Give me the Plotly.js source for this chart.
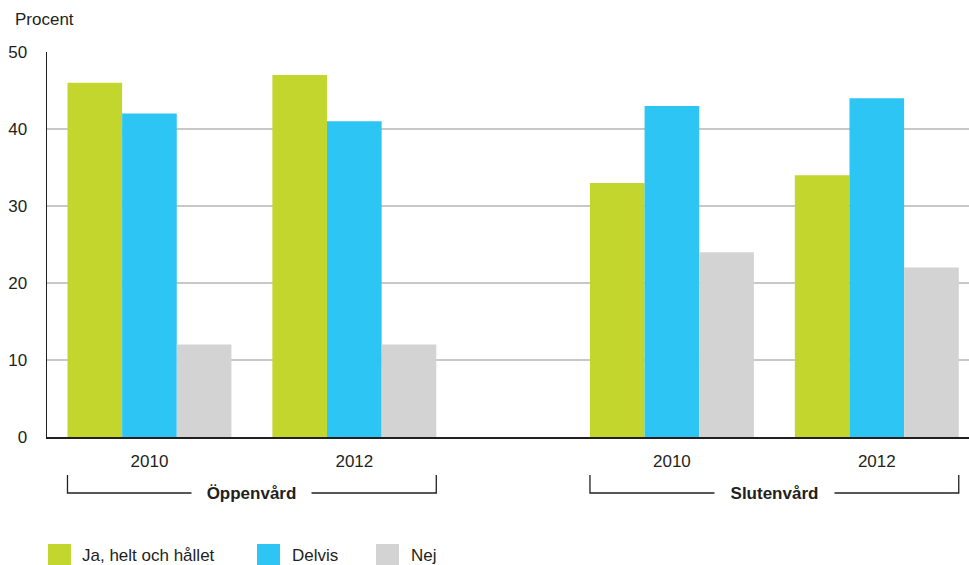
<!DOCTYPE html>
<html>
<head>
<meta charset="utf-8">
<script src="https://cdn.plot.ly/plotly-3.0.1.min.js"></script>
<style>html,body{margin:0;padding:0;background:#fff}#chart{width:969px;height:565px}</style>
</head>
<body>
<div id="chart"></div>
<script>
// ---- data ----
const years = ["2010", "2012", "2010", "2012"];
const groups = ["Öppenvård", "Slutenvård"];
const seriesNames = ["Ja, helt och hållet", "Delvis", "Nej"];
const jaValues = [46, 47, 33, 34];
const delvisValues = [42, 41, 43, 44];
const nejValues = [12, 12, 24, 22];
const yTicks = [0, 10, 20, 30, 40, 50];
const yTitle = "Procent";

// ---- layout helpers ----
const colors = ["#c2d62e", "#2cc5f4", "#d3d3d3"];
const xPos = [0, 1, 2.55, 3.55];
const W = 969, H = 565, mL = 47, mR = 0, mT = 52, mB = 128;
const pw = W - mL - mR, ph = H - mT - mB;
const px = v => (v - mL) / pw;
const py = v => (H - mB - v) / ph;
const FONT = "Liberation Sans, Arial, sans-serif";
const TXT = "#231f20";

const allVals = [jaValues, delvisValues, nejValues];
const traces = allVals.map((vals, i) => ({
  type: "bar",
  x: xPos,
  y: vals,
  name: seriesNames[i],
  marker: {color: colors[i], line: {width: 0}},
  showlegend: false,
  hoverinfo: "y+name"
}));

const shapes = [];
const annotations = [];

// Group brackets
[[0, 1], [2, 3]].forEach((pair, gi) => {
  const x0 = xPos[pair[0]] - 0.4, x1 = xPos[pair[1]] + 0.4;
  const yTop = py(475), yBot = py(493);
  const line = {color: "#231f20", width: 1.3};
  shapes.push({type: "path", xref: "x", yref: "paper",
    path: `M${x0},${yTop} L${x0},${yBot} L${x1},${yBot} L${x1},${yTop}`,
    line: line});
  annotations.push({xref: "x", yref: "paper", x: (x0 + x1) / 2, y: yBot,
    text: "<b>" + groups[gi] + "</b>", showarrow: false,
    font: {family: FONT, size: 17, color: TXT}, bgcolor: "#ffffff",
    width: 119, borderpad: 0, xanchor: "center", yanchor: "middle"});
});

// Y title
annotations.push({xref: "paper", yref: "paper", x: px(15), y: py(20), xshift: -2,
  text: yTitle, showarrow: false, xanchor: "left", yanchor: "middle",
  font: {family: FONT, size: 17, color: TXT}});

// Legend (manual)
const legSwatchX = [48, 257, 376];
const legTextX = [82, 292, 411];
seriesNames.forEach((n, i) => {
  shapes.push({type: "rect", xref: "paper", yref: "paper",
    x0: px(legSwatchX[i]), x1: px(legSwatchX[i] + 23),
    y0: py(544), y1: py(567), fillcolor: colors[i], line: {width: 0}});
  annotations.push({xref: "paper", yref: "paper", x: px(legTextX[i]), y: py(555), xshift: -2,
    text: n, showarrow: false, xanchor: "left", yanchor: "middle",
    font: {family: FONT, size: 17, color: TXT}});
});

const layout = {
  width: W, height: H,
  margin: {l: mL, r: mR, t: mT, b: mB, pad: 0},
  paper_bgcolor: "#ffffff", plot_bgcolor: "#ffffff",
  bargap: 0.2, bargroupgap: 0,
  barmode: "group",
  font: {family: FONT, size: 17, color: TXT},
  xaxis: {
    range: [-0.5, 4], tickvals: xPos, ticktext: years,
    showgrid: false, zeroline: false, showline: true,
    linecolor: "#231f20", linewidth: 2, ticks: "", ticklabelstandoff: 8,
    tickfont: {family: FONT, size: 17, color: TXT}, fixedrange: true
  },
  yaxis: {
    range: [0, 50], tickvals: yTicks, ticktext: yTicks.map(String),
    showgrid: true, gridcolor: "#c8c8c8", gridwidth: 1.5,
    zeroline: false, showline: true, linecolor: "#231f20", linewidth: 1.5,
    ticks: "", ticklabelstandoff: 15,
    tickfont: {family: FONT, size: 17, color: TXT}, fixedrange: true
  },
  shapes: shapes,
  annotations: annotations,
  showlegend: false
};

Plotly.newPlot("chart", traces, layout, {displayModeBar: false, staticPlot: true});
</script>
</body>
</html>
